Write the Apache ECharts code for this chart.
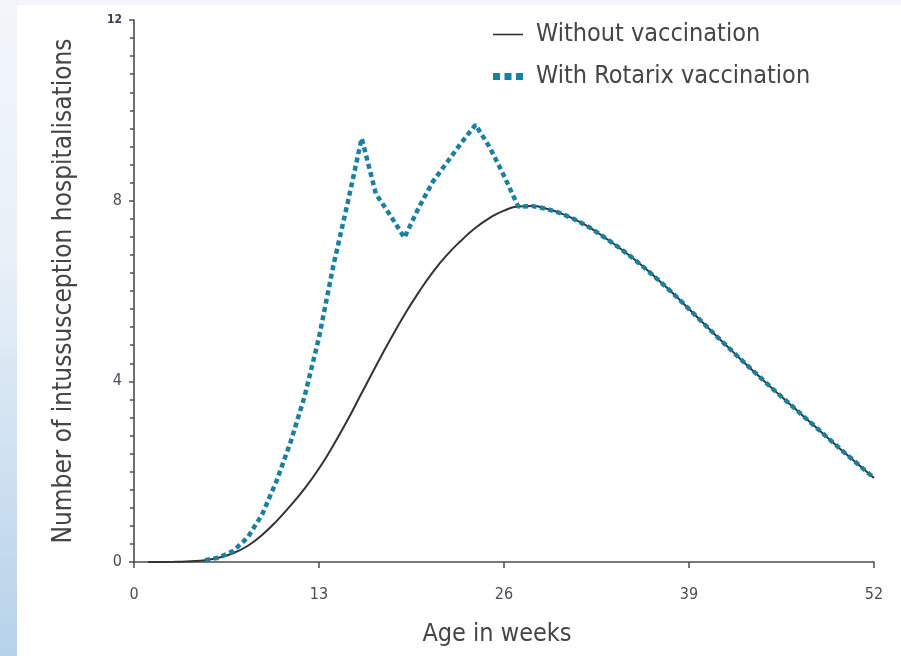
<!DOCTYPE html>
<html>
<head>
<meta charset="utf-8">
<script src="https://cdn.jsdelivr.net/npm/echarts@6/dist/echarts.min.js"></script>
<style>
html,body{margin:0;padding:0;background:#fff;}
#wrap{position:relative;width:901px;height:656px;background:#fff;overflow:hidden;}
#topband{position:absolute;left:0;top:0;width:901px;height:5px;background:#f2f6fb;}
#strip{position:absolute;left:0;top:0;width:17px;height:656px;background:linear-gradient(to bottom,#f2f6fb 0%,#e8f0f8 40%,#b6d2e9 100%);}
#main{position:absolute;left:0;top:0;width:901px;height:656px;}
</style>
</head>
<body>
<div id="wrap"><div id="topband"></div><div id="strip"></div><div id="main"></div></div>
<script>
// Age in weeks
var weeks = [1,2,3,4,5,6,7,8,9,10,11,12,13,14,15,16,17,18,19,20,21,22,23,24,25,26,
             27,28,29,30,31,32,33,34,35,36,37,38,39,40,41,42,43,44,45,46,47,48,49,50,51,52];
// Number of intussusception hospitalisations without vaccination
var withoutVacc = [0,0,0.005,0.015,0.04,0.1,0.2,0.36,0.6,0.9,1.25,1.63,2.07,2.58,3.14,3.74,4.34,4.92,5.47,5.97,6.42,6.8,7.12,7.4,7.62,7.78,
                   7.87,7.88,7.82,7.72,7.58,7.41,7.2,6.98,6.74,6.48,6.2,5.91,5.6,5.29,4.98,4.68,4.38,4.09,3.8,3.52,3.24,2.96,2.68,2.4,2.13,1.86];
// With Rotarix vaccination
var withRotarix = [null,null,null,null,0.04,0.1,0.25,0.55,1.05,1.78,2.65,3.68,4.97,6.55,7.93,9.38,8.15,7.68,7.18,7.84,8.42,8.85,9.28,9.68,9.18,8.55,
                   7.87,7.88,7.82,7.72,7.58,7.41,7.2,6.98,6.74,6.48,6.2,5.91,5.6,5.29,4.98,4.68,4.38,4.09,3.8,3.52,3.24,2.96,2.68,2.4,2.13,1.86];
var xTicks = [0,13,26,39,52];
var yTicks = [0,4,8,12];
var seriesNames = ['Without vaccination','With Rotarix vaccination'];

var FONT = "'DejaVu Sans Condensed','Liberation Sans Narrow','Open Sans',sans-serif";
var TEAL = '#1a80a2';

function pairs(vals){ return weeks.map(function(w,i){ return [w, vals[i]]; }); }

var chart = echarts.init(document.getElementById('main'), null, {renderer:'canvas'});
chart.setOption({
  backgroundColor:'transparent',
  animation:false,
  grid:{left:134,right:27,top:20,bottom:94,containLabel:false},
  legend:{
    orient:'vertical', left:493, top:22, padding:0, itemGap:17, itemWidth:30, itemHeight:10,
    textStyle:{fontFamily:FONT,fontSize:25,color:'#454545',padding:[0,0,0,8]},
    data:[
      {name:seriesNames[0], icon:'path://M0,0h30v1.6h-30z', itemStyle:{color:'#333'}},
      {name:seriesNames[1], icon:'path://M0,0h7v7h-7zM11.5,0h7v7h-7zM23,0h7v7h-7z', itemStyle:{color:TEAL}}
    ]
  },
  xAxis:{
    type:'value', min:xTicks[0], max:xTicks[xTicks.length-1], interval:13, offset:4,
    name:'Age in weeks', nameLocation:'middle', nameGap:56,
    nameTextStyle:{fontFamily:FONT,fontSize:25,color:'#454545',padding:[0,14,0,0]},
    axisLine:{show:true,lineStyle:{color:'#4d4d4d',width:1.6}},
    axisTick:{show:true,length:6,lineStyle:{color:'#4d4d4d',width:1.5}},
    axisLabel:{fontFamily:FONT,fontSize:16,color:'#4a4a5a',margin:21},
    splitLine:{show:false}
  },
  yAxis:{
    type:'value', min:yTicks[0], max:yTicks[yTicks.length-1], interval:4,
    name:'Number of intussusception hospitalisations', nameLocation:'middle', nameGap:57,
    nameTextStyle:{fontFamily:FONT,fontSize:26,color:'#454545'},
    axisLine:{show:true,lineStyle:{color:'#4d4d4d',width:1.6}},
    axisTick:{show:true,length:5,lineStyle:{color:'#4d4d4d',width:1.5}},
    minorTick:{show:true,splitNumber:10,length:4,lineStyle:{color:'#4d4d4d',width:1.5}},
    axisLabel:{fontFamily:FONT,fontSize:16,color:'#4a4a5a',margin:12,
      formatter:function(v){ return v===12 ? '{s|12}' : String(v); },
      rich:{s:{fontFamily:FONT,fontSize:12,fontWeight:'bold',color:'#3a3a5a'}}},
    splitLine:{show:false},
    minorSplitLine:{show:false}
  },
  series:[
    {name:seriesNames[0], type:'line', data:pairs(withoutVacc), smooth:0.5,
     symbol:'none', itemStyle:{color:'#333'}, lineStyle:{color:'#333',width:2}, z:2},
    {name:seriesNames[1], type:'line', data:pairs(withRotarix), smooth:false, connectNulls:false,
     symbol:'none', itemStyle:{color:TEAL}, lineStyle:{color:TEAL,width:4.5,type:[5,3.5],cap:'butt'}, z:3}
  ]
});
</script>
</body>
</html>
